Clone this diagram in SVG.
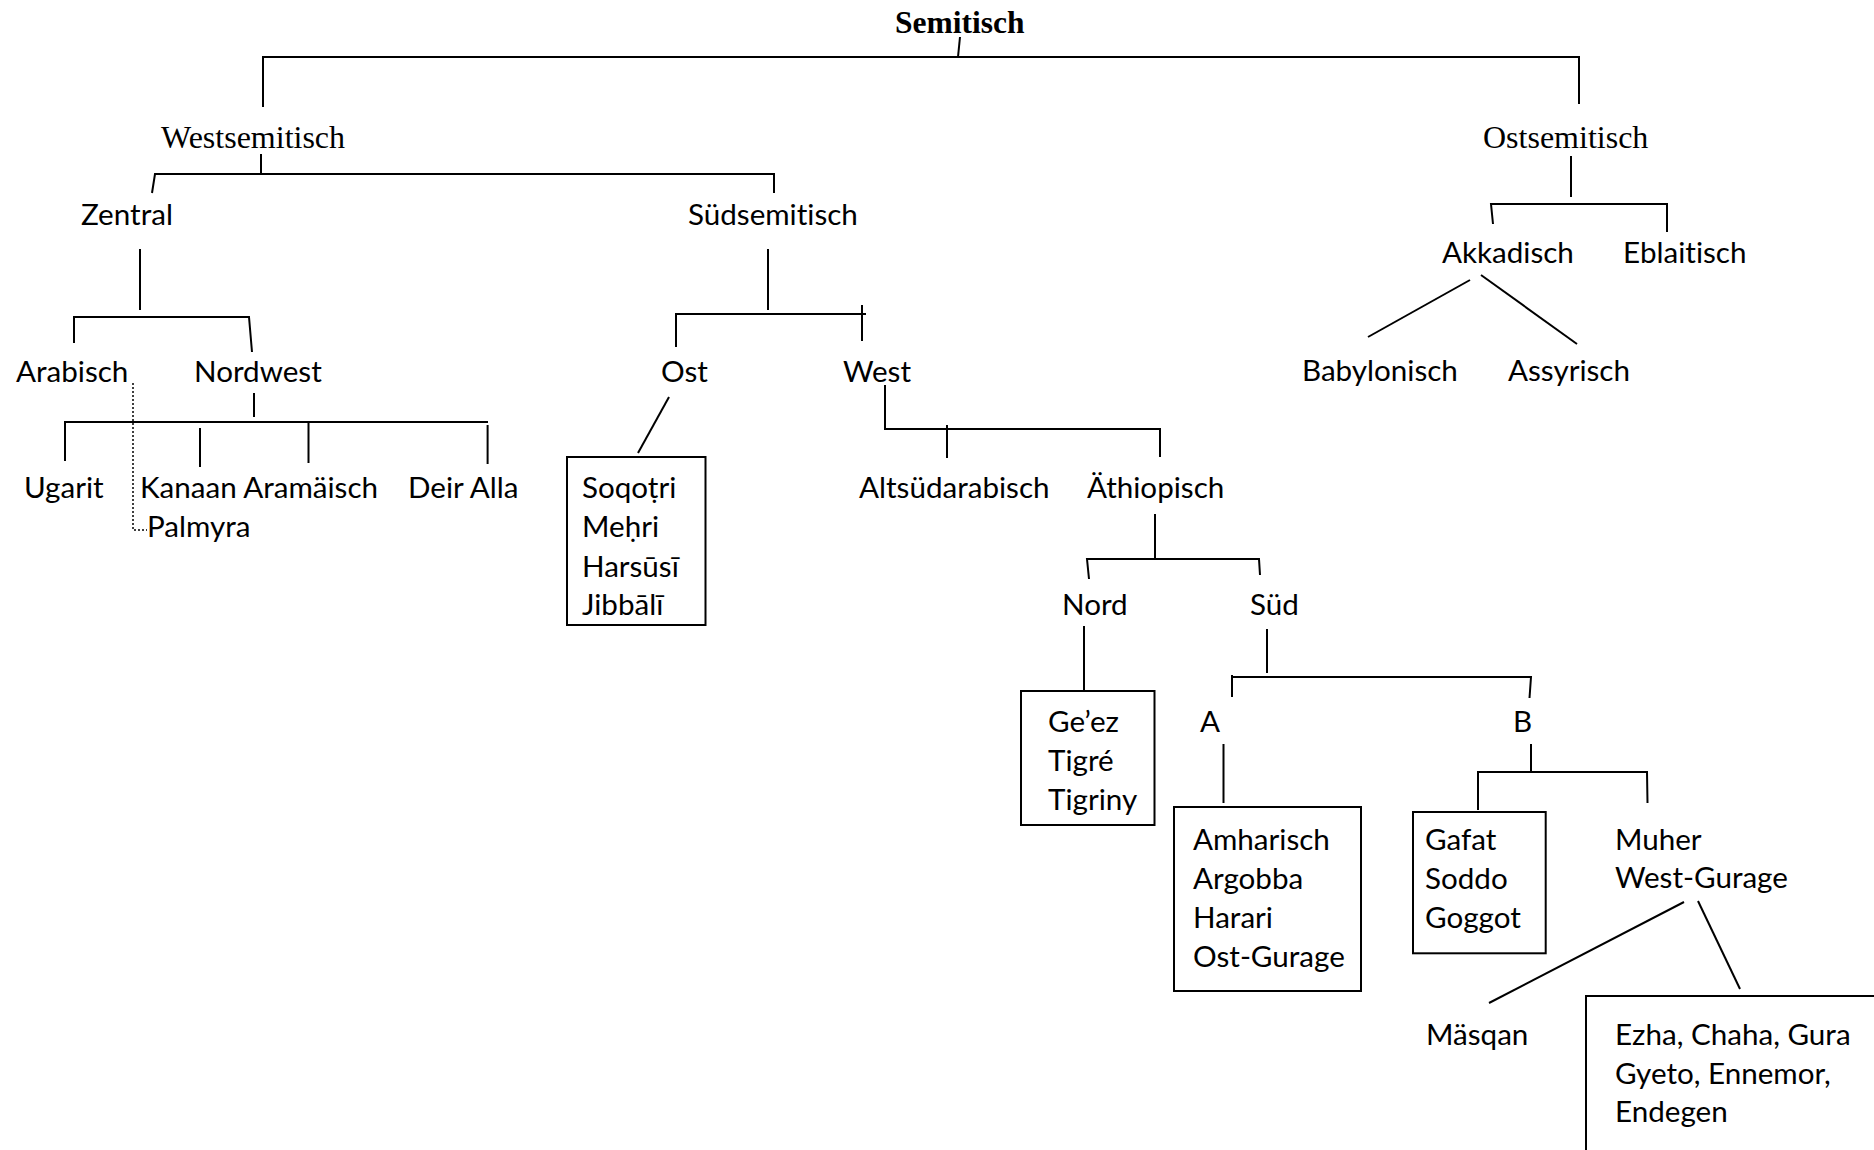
<svg xmlns="http://www.w3.org/2000/svg" width="1874" height="1150" viewBox="0 0 1874 1150">
<style>
.bg{fill:#fff}
.serif{font-family:"Liberation Serif","Times New Roman",serif;font-size:32px;fill:#000}
.title{font-family:"Liberation Serif","Times New Roman",serif;font-size:31.5px;font-weight:bold;fill:#000}
.sans{font-family:Lato,"Liberation Sans",sans-serif;font-size:29.6px;fill:#000;font-variant-ligatures:none;font-feature-settings:"liga" 0,"dlig" 0}
.ln{stroke:#000;stroke-width:2;fill:none}
.dot{stroke:#000;stroke-width:1.5;stroke-dasharray:2 2;fill:none}
.box{stroke:#000;stroke-width:2;fill:#fff}
</style>
<rect class="bg" x="0" y="0" width="1874" height="1150"/>
<g id="connectors">
<path class="ln" d="M960 37 L958 57"/>
<path class="ln" d="M263 107 L263 57 L1579 57 L1579 104"/>
<path class="ln" d="M261 154 L261 174"/>
<path class="ln" d="M152 193 L155 174 L775 174"/>
<path class="ln" d="M774 174 L774 193"/>
<path class="ln" d="M140 249 L140 310"/>
<path class="ln" d="M74 343 L74 317 L249 317 L252 352"/>
<path class="ln" d="M254 393 L254 417"/>
<path class="ln" d="M65 461 L65 422 L488 422"/>
<path class="ln" d="M200 428 L200 467"/>
<path class="ln" d="M308.5 422 L308.5 463"/>
<path class="ln" d="M487.6 425 L487.6 464"/>
<path class="dot" d="M133 383 L133 530 L147 530"/>
<path class="ln" d="M768 249 L768 310"/>
<path class="ln" d="M676 347 L676 314 L866 314"/>
<path class="ln" d="M862 305 L862 341"/>
<path class="ln" d="M669 397 L638 453"/>
<path class="ln" d="M885 385 L885 429 L1160 429 L1160 457"/>
<path class="ln" d="M947 425 L947 458"/>
<path class="ln" d="M1155 514 L1155 559"/>
<path class="ln" d="M1089 579 L1087 559 L1259 559 L1260 575"/>
<path class="ln" d="M1084 626 L1084 690"/>
<path class="ln" d="M1267 629 L1267 673"/>
<path class="ln" d="M1232 677 L1531 677 L1529.5 698"/>
<path class="ln" d="M1232 675 L1232 697"/>
<path class="ln" d="M1223.5 744 L1223.5 803"/>
<path class="ln" d="M1531 744 L1531 772"/>
<path class="ln" d="M1478 810 L1478 772 L1647 772 L1647.5 803"/>
<path class="ln" d="M1684 902 L1489 1003"/>
<path class="ln" d="M1698 901 L1740 989"/>
<path class="ln" d="M1571 156 L1571 197"/>
<path class="ln" d="M1493 224 L1491 204 L1667 204 L1667 232"/>
<path class="ln" d="M1470 280 L1368 337"/>
<path class="ln" d="M1481 275 L1577 344"/>
</g>
<g id="n-semitisch"><text class="title" x="895" y="33">Semitisch</text></g>
<g id="n-westsemitisch"><text class="serif" x="161" y="148">Westsemitisch</text></g>
<g id="n-ostsemitisch"><text class="serif" x="1483" y="148">Ostsemitisch</text></g>
<g id="n-zentral"><text class="sans" x="81" y="225">Zentral</text></g>
<g id="n-suedsemitisch"><text class="sans" x="688" y="225">Südsemitisch</text></g>
<g id="n-akkadisch"><text class="sans" x="1442" y="263">Akkadisch</text></g>
<g id="n-eblaitisch"><text class="sans" x="1623" y="263">Eblaitisch</text></g>
<g id="n-arabisch"><text class="sans" x="16" y="382">Arabisch</text></g>
<g id="n-nordwest"><text class="sans" x="194" y="382">Nordwest</text></g>
<g id="n-ost"><text class="sans" x="661" y="382">Ost</text></g>
<g id="n-west"><text class="sans" x="843" y="382">West</text></g>
<g id="n-babylonisch"><text class="sans" x="1302" y="381">Babylonisch</text></g>
<g id="n-assyrisch"><text class="sans" x="1508" y="381">Assyrisch</text></g>
<g id="n-ugarit"><text class="sans" x="24" y="498">Ugarit</text></g>
<g id="n-kanaan"><text class="sans" x="140" y="498">Kanaan Aramäisch</text></g>
<g id="n-deiralla"><text class="sans" x="408" y="498">Deir Alla</text></g>
<g id="n-palmyra"><text class="sans" x="147" y="537">Palmyra</text></g>
<g id="n-soqotri">
<rect class="box" x="567" y="457" width="138.5" height="168"/>
<text class="sans" x="582" y="498">Soqoṭri</text>
<text class="sans" x="582" y="537">Meḥri</text>
<text class="sans" x="582" y="577">Harsūsī</text>
<text class="sans" x="582" y="615">Jibbālī</text>
</g>
<g id="n-altsuedarabisch"><text class="sans" x="859" y="498">Altsüdarabisch</text></g>
<g id="n-aethiopisch"><text class="sans" x="1087" y="498">Äthiopisch</text></g>
<g id="n-nord"><text class="sans" x="1062" y="615">Nord</text></g>
<g id="n-sued"><text class="sans" x="1250" y="615">Süd</text></g>
<g id="n-geez">
<rect class="box" x="1021" y="691" width="133.5" height="134"/>
<text class="sans" x="1048" y="732">Ge’ez</text>
<text class="sans" x="1048" y="771">Tigré</text>
<text class="sans" x="1048" y="810">Tigriny</text>
</g>
<g id="n-a"><text class="sans" x="1200" y="732">A</text></g>
<g id="n-b"><text class="sans" x="1513" y="732">B</text></g>
<g id="n-amharisch">
<rect class="box" x="1174" y="807" width="187" height="184"/>
<text class="sans" x="1193" y="850">Amharisch</text>
<text class="sans" x="1193" y="889">Argobba</text>
<text class="sans" x="1193" y="928">Harari</text>
<text class="sans" x="1193" y="967">Ost-Gurage</text>
</g>
<g id="n-gafat">
<rect class="box" x="1413" y="812" width="132.7" height="141.3"/>
<text class="sans" x="1425" y="850">Gafat</text>
<text class="sans" x="1425" y="889">Soddo</text>
<text class="sans" x="1425" y="928">Goggot</text>
</g>
<g id="n-muher">
<text class="sans" x="1615" y="850">Muher</text>
<text class="sans" x="1615" y="888">West-Gurage</text>
</g>
<g id="n-maesqan"><text class="sans" x="1426" y="1045">Mäsqan</text></g>
<g id="n-ezha">
<rect class="box" x="1586" y="996" width="320" height="200"/>
<text class="sans" x="1615" y="1045">Ezha, Chaha, Gura</text>
<text class="sans" x="1615" y="1084">Gyeto, Ennemor,</text>
<text class="sans" x="1615" y="1122">Endegen</text>
</g>
</svg>
